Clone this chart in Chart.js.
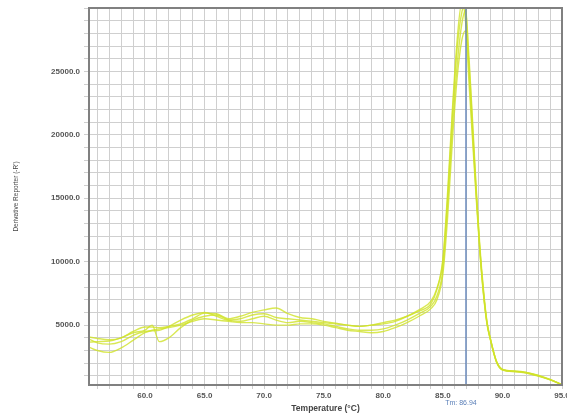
<!DOCTYPE html>
<html>
<head>
<meta charset="utf-8">
<script src="https://cdn.jsdelivr.net/npm/chart.js@4.4.1/dist/chart.umd.min.js"></script>
<style>
  body { margin: 0; background: #fff; }
  #wrap { width: 567px; height: 414px; }
</style>
</head>
<body>
<div id="wrap"><canvas id="melt" width="567" height="414"></canvas></div>
<script>
const temps = [55.3, 56, 57, 58, 59, 60, 60.6, 61.2, 62, 63, 64, 65, 66, 67, 68, 69, 70, 71, 72, 73,
  74, 75, 76, 77, 78, 79, 80, 81, 82, 83, 84, 84.5, 85, 85.4, 85.8, 86.2, 86.6, 86.9, 87.2, 87.5,
  87.8, 88.1, 88.4, 88.7, 89, 89.5, 90, 91, 92, 93, 94, 95];

const well1 = [4060, 3950, 3850, 4000, 4500, 4850, 4850, 4800, 4900, 5100, 5500, 5950, 5900, 5500, 5700, 6000, 6200, 6350, 5900, 5600,
  5500, 5300, 5150, 5000, 4900, 5000, 5200, 5400, 5700, 6100, 6700, 7800, 10200, 15500, 22000, 27500, 30500, 29000, 24000, 19500,
  15000, 10800, 7500, 5100, 3800, 2100, 1500, 1380, 1280, 1050, 720, 300];
const well2 = [3660, 3700, 3750, 4000, 4400, 4600, 5000, 3700, 4000, 4800, 5400, 5700, 5800, 5400, 5300, 5500, 5700, 5400, 5200, 5300,
  5200, 5100, 4900, 4700, 4600, 4600, 4700, 5000, 5400, 5900, 6500, 7300, 9400, 14500, 20500, 25500, 28800, 29800, 26000, 21000,
  15800, 11300, 7900, 5300, 3900, 2150, 1500, 1350, 1250, 1000, 700, 320];
const well3 = [3270, 3000, 2850, 3200, 3800, 4400, 4600, 4700, 4800, 5000, 5300, 5500, 5400, 5300, 5200, 5200, 5100, 5000, 5000, 5100,
  5100, 5000, 4800, 4600, 4500, 4400, 4500, 4800, 5200, 5700, 6300, 7000, 9000, 13500, 19500, 24500, 27500, 28200, 25500, 20500,
  15500, 11000, 7700, 5200, 3850, 2100, 1450, 1330, 1230, 980, 680, 290];
const well4 = [3900, 3600, 3500, 3700, 4200, 4500, 4550, 4600, 4900, 5400, 5800, 6000, 5700, 5400, 5500, 5800, 5900, 5600, 5500, 5400,
  5300, 5200, 5100, 5000, 4900, 5000, 5100, 5300, 5700, 6200, 6900, 7900, 10000, 15000, 21500, 26800, 29700, 30200, 25000, 20000,
  15300, 11000, 7600, 5200, 3850, 2150, 1520, 1370, 1270, 1020, 710, 310];

const xTickLabels = [60, 65, 70, 75, 80, 85, 90, 95];
const yTickLabels = [5000, 10000, 15000, 20000, 25000];
const tmValue = 86.94;

const curveColor = 'rgba(208, 226, 40, 0.8)';
const labelFont = { family: 'Liberation Sans', size: 8, weight: 'bold' };

function toPoints(vals) {
  return temps.map((t, i) => ({ x: t, y: vals[i] }));
}

const meltOverlay = {
  id: 'meltOverlay',
  afterDatasetsDraw(chart) {
    const { ctx, chartArea, scales } = chart;
    const x = scales.x.getPixelForValue(tmValue);
    ctx.save();
    ctx.strokeStyle = '#5a7fb8';
    ctx.lineWidth = 1.3;
    ctx.beginPath();
    ctx.moveTo(x, chartArea.top);
    ctx.lineTo(x, chartArea.bottom);
    ctx.stroke();
    ctx.restore();
  },
  afterDraw(chart) {
    const { ctx, chartArea, scales } = chart;
    ctx.save();
    // frame
    ctx.strokeStyle = '#808080';
    ctx.lineWidth = 2;
    ctx.strokeRect(chartArea.left, chartArea.top, chartArea.right - chartArea.left, chartArea.bottom - chartArea.top);

    // Tm label
    const x = scales.x.getPixelForValue(tmValue);
    ctx.fillStyle = '#5a7fb8';
    ctx.font = '7px "Liberation Sans"';
    ctx.textAlign = 'center';
    ctx.textBaseline = 'middle';
    ctx.fillText('Tm: ' + tmValue.toFixed(2), x - 5, 403);

    // axis titles
    ctx.fillStyle = '#444';
    ctx.font = 'bold 8.5px "Liberation Sans"';
    ctx.fillText('Temperature (\u00B0C)', (chartArea.left + chartArea.right) / 2, 409);

    ctx.translate(16, (chartArea.top + chartArea.bottom) / 2);
    ctx.rotate(-Math.PI / 2);
    ctx.font = '6.5px "Liberation Sans Narrow", "Liberation Sans"';
    ctx.fillText("Derivative Reporter (-R')", 0, 0);
    ctx.restore();
  }
};

new Chart(document.getElementById('melt'), {
  type: 'line',
  data: {
    datasets: [well1, well2, well3, well4].map((vals, i) => ({
      label: 'Well ' + (i + 1),
      data: toPoints(vals),
      borderColor: curveColor,
      borderWidth: 1.4,
      pointRadius: 0,
      fill: false,
      cubicInterpolationMode: 'monotone'
    }))
  },
  options: {
    responsive: false,
    animation: false,
    layout: { padding: { left: 0, right: 5, top: 8, bottom: 0 } },
    plugins: { legend: { display: false }, tooltip: { enabled: false } },
    scales: {
      x: {
        type: 'linear',
        min: 55.3,
        max: 95,
        afterBuildTicks(scale) {
          const ticks = [];
          for (let v = 56; v <= 95; v++) ticks.push({ value: v });
          scale.ticks = ticks;
        },
        afterFit(scale) {
          scale.height = 29;
          scale.paddingLeft = 0;
          scale.paddingRight = 0;
        },
        grid: { color: '#cfcfcf', lineWidth: 1, tickLength: 4 },
        border: { display: false },
        ticks: {
          autoSkip: false,
          maxRotation: 0,
          padding: 2,
          color: '#555',
          font: labelFont,
          callback: (v) => xTickLabels.includes(v) ? v.toFixed(1) : ''
        }
      },
      y: {
        min: 280,
        max: 30000,
        afterBuildTicks(scale) {
          const ticks = [];
          for (let v = 1000; v <= 30000; v += 1000) ticks.push({ value: v });
          scale.ticks = ticks;
        },
        afterFit(scale) {
          scale.width = 89;
          scale.paddingTop = 0;
          scale.paddingBottom = 0;
        },
        grid: { color: '#cfcfcf', lineWidth: 1, tickLength: 5 },
        border: { display: false },
        ticks: {
          autoSkip: false,
          padding: 4,
          color: '#555',
          font: labelFont,
          callback: (v) => yTickLabels.includes(v) ? v.toFixed(1) : ''
        }
      }
    }
  },
  plugins: [meltOverlay]
});
</script>
</body>
</html>
